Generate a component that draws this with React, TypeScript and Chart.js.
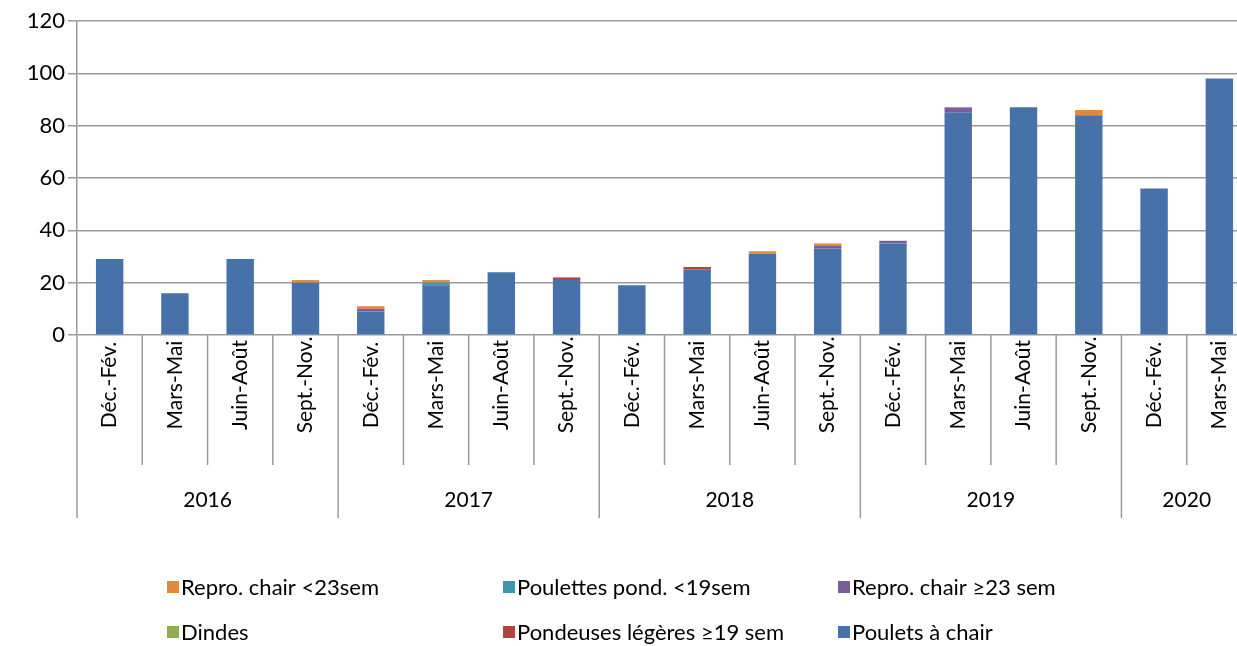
import React, { useEffect, useRef } from 'react';
import { Chart, registerables } from 'chart.js';
Chart.register(...registerables);

const years = ['2016', '2017', '2018', '2019', '2020'];
const yearSpans = [4, 4, 4, 4, 2];
const periods = [
  'Déc.-Fév.', 'Mars-Mai', 'Juin-Août', 'Sept.-Nov.',
  'Déc.-Fév.', 'Mars-Mai', 'Juin-Août', 'Sept.-Nov.',
  'Déc.-Fév.', 'Mars-Mai', 'Juin-Août', 'Sept.-Nov.',
  'Déc.-Fév.', 'Mars-Mai', 'Juin-Août', 'Sept.-Nov.',
  'Déc.-Fév.', 'Mars-Mai',
];
const poulets = [29, 16, 29, 20, 9, 19, 24, 21, 19, 25, 31, 33, 35, 85, 87, 84, 56, 98];
const pondeuses = [0, 0, 0, 0, 0, 0, 0, 1, 0, 1, 0, 0, 0, 0, 0, 0, 0, 0];
const dindes = [0, 0, 0, 0, 0, 0, 0, 0, 0, 0, 0, 0, 0, 0, 0, 0, 0, 0];
const reproAdultes = [0, 0, 0, 0, 1, 0, 0, 0, 0, 0, 0, 1, 1, 2, 0, 0, 0, 0];
const poulettes = [0, 0, 0, 0, 0, 1, 0, 0, 0, 0, 0, 0, 0, 0, 0, 0, 0, 0];
const reproJeunes = [0, 0, 0, 1, 1, 1, 0, 0, 0, 0, 1, 1, 0, 0, 0, 2, 0, 0];
const yTicks = [0, 20, 40, 60, 80, 100, 120];

const seriesNames = {
  poulets: 'Poulets à chair',
  pondeuses: 'Pondeuses légères ≥19 sem',
  dindes: 'Dindes',
  reproAdultes: 'Repro. chair ≥23 sem',
  poulettes: 'Poulettes pond. <19sem',
  reproJeunes: 'Repro. chair <23sem',
};

const COLORS = {
  poulets: '#4672a9',
  pondeuses: '#b0463f',
  dindes: '#8fad4d',
  reproAdultes: '#7a5c99',
  poulettes: '#3e97ae',
  reproJeunes: '#e08a3c',
};

const FONT = 'Lato, "Open Sans", sans-serif';
const GRID = '#999999';

const legendOrder = [
  ['reproJeunes', 'poulettes', 'reproAdultes'],
  ['dindes', 'pondeuses', 'poulets'],
];

const axisPlugin = {
  id: 'multiAxis',
  afterDraw(chart: any) {
    const ctx = chart.ctx;
    const x = chart.scales.x;
    const area = chart.chartArea;
    const n = periods.length;
    const centers = periods.map((_, i) => x.getPixelForValue(i));
    const half = (centers[1] - centers[0]) / 2;
    const bottom = area.bottom;
    const rowEnd = 465;
    const yearEnd = 518;
    ctx.save();
    ctx.strokeStyle = GRID;
    ctx.lineWidth = 1.5;
    const yearBounds = new Set<number>();
    let acc = 0;
    yearBounds.add(0);
    yearSpans.forEach((s) => { acc += s; yearBounds.add(acc); });
    for (let i = 0; i <= n; i++) {
      const px = i < n ? centers[i] - half : centers[n - 1] + half;
      const end = yearBounds.has(i) ? yearEnd : rowEnd;
      ctx.beginPath();
      ctx.moveTo(px, bottom);
      ctx.lineTo(px, end);
      ctx.stroke();
    }
    ctx.fillStyle = '#000';
    ctx.font = `21px ${FONT}`;
    ctx.textAlign = 'center';
    ctx.textBaseline = 'middle';
    periods.forEach((p, i) => {
      ctx.save();
      ctx.translate(centers[i], 385);
      ctx.rotate(-Math.PI / 2);
      ctx.fillText(p, 0, 0);
      ctx.restore();
    });
    let start = 0;
    years.forEach((yr, j) => {
      const s = yearSpans[j];
      const left = centers[start] - half;
      const right = centers[start + s - 1] + half;
      ctx.fillText(yr, (left + right) / 2, 500);
      start += s;
    });
    const cols = [167, 503, 838];
    const rows = [587, 632];
    ctx.textAlign = 'left';
    ctx.font = `22px ${FONT}`;
    legendOrder.forEach((row, r) => {
      row.forEach((key, c) => {
        const bx = cols[c];
        const by = rows[r];
        ctx.fillStyle = (COLORS as any)[key];
        ctx.fillRect(bx, by - 6, 12, 12);
        ctx.fillStyle = '#000';
        ctx.fillText((seriesNames as any)[key], bx + 14, by + 1);
      });
    });
    ctx.restore();
  },
};

export default function App() {
  const ref = useRef<HTMLCanvasElement>(null);
  useEffect(() => {
    if (!ref.current) return;
    const mk = (key: string, data: number[]) => ({
      label: (seriesNames as any)[key],
      data,
      backgroundColor: (COLORS as any)[key],
      borderWidth: 0,
      barPercentage: 0.42,
      categoryPercentage: 1,
      stack: 's',
    });
    const chart = new Chart(ref.current, {
      type: 'bar',
      data: {
        labels: periods,
        datasets: [
          mk('poulets', poulets),
          mk('pondeuses', pondeuses),
          mk('dindes', dindes),
          mk('reproAdultes', reproAdultes),
          mk('poulettes', poulettes),
          mk('reproJeunes', reproJeunes),
        ],
      },
      options: {
        responsive: false,
        animation: false,
        devicePixelRatio: 1,
        layout: { padding: { top: 21, bottom: 646 - 335, left: 0, right: 0 } },
        plugins: { legend: { display: false }, tooltip: { enabled: false } },
        scales: {
          x: { display: false, stacked: true },
          y: {
            stacked: true,
            min: 0,
            max: 120,
            afterBuildTicks: (scale: any) => { scale.ticks = yTicks.map((v) => ({ value: v })); },
            afterFit: (scale: any) => { scale.width = 77; },
            grid: { color: GRID, lineWidth: 1.5, tickLength: 9 },
            border: { display: true, color: GRID, width: 1.5 },
            ticks: { color: '#000', font: { family: FONT, size: 22 }, padding: 3 },
          },
        },
      },
      plugins: [axisPlugin],
    });
    return () => chart.destroy();
  }, []);
  return (
    <div style={{ position: 'fixed', left: 0, top: 0, width: 1237, height: 646, overflow: 'hidden', background: '#fff' }}>
      <canvas ref={ref} width={1252} height={646} style={{ width: 1252, height: 646, display: 'block' }} />
    </div>
  );
}
